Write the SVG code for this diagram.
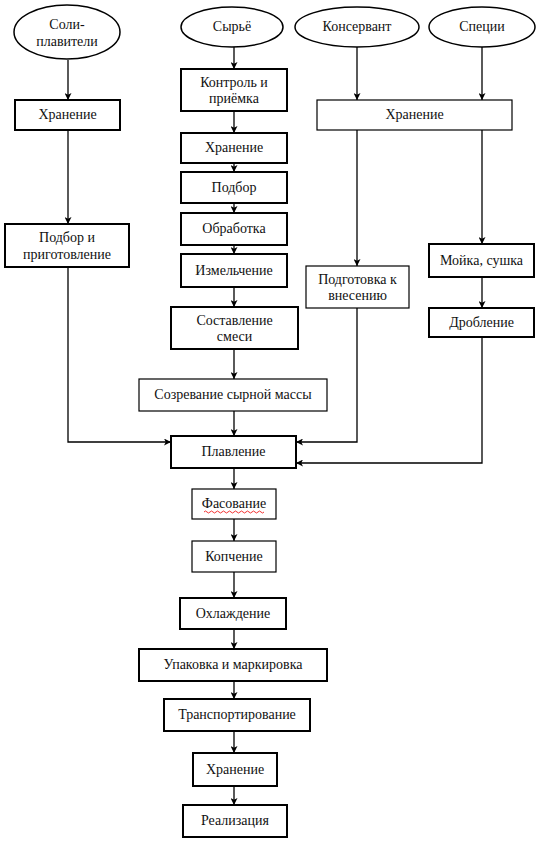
<svg xmlns="http://www.w3.org/2000/svg" width="542" height="842" viewBox="0 0 542 842">
<defs>
<marker id="ah" viewBox="0 0 8 8" refX="8" refY="4" markerWidth="7" markerHeight="7" markerUnits="userSpaceOnUse" orient="auto">
<path d="M0,0 L8,4 L0,8 L2,4 Z" fill="#000"/>
</marker>
<style>
text{font-size:14px;fill:#111;text-anchor:middle}
.b{fill:#fff;stroke:#000;stroke-width:2}
.t{fill:#fff;stroke:#000;stroke-width:1.2}
.e{fill:#fff;stroke:#000;stroke-width:1.5}
.c{fill:none;stroke:#000;stroke-width:1.3;marker-end:url(#ah)}
</style>
</defs>
<rect width="542" height="842" fill="#fff"/>
<g id="connectors">
<path class="c" d="M68,60 V100"/>
<path class="c" d="M68,130 V224"/>
<path class="c" d="M68,267 V442 H171"/>
<path class="c" d="M234,47 V69"/>
<path class="c" d="M234,111 V133"/>
<path class="c" d="M234,163 V172"/>
<path class="c" d="M234,203 V213"/>
<path class="c" d="M234,245 V254"/>
<path class="c" d="M234,287 V307"/>
<path class="c" d="M234,349 V379"/>
<path class="c" d="M234,411 V436"/>
<path class="c" d="M234,468 V489"/>
<path class="c" d="M234,519 V541"/>
<path class="c" d="M234,572 V598"/>
<path class="c" d="M234,629 V649"/>
<path class="c" d="M234,681 V699"/>
<path class="c" d="M234,731 V753"/>
<path class="c" d="M234,786 V805"/>
<path class="c" d="M357,47 V100"/>
<path class="c" d="M482,47 V100"/>
<path class="c" d="M357,130 V266"/>
<path class="c" d="M482,130 V244"/>
<path class="c" d="M482,277 V308"/>
<path class="c" d="M357,308 V442 H296"/>
<path class="c" d="M482,337 V463 H296"/>
</g>
<g font-family="'Liberation Serif', 'DejaVu Serif', 'Times New Roman', serif">
<g id="n-soli"><ellipse class="e" cx="67" cy="32" rx="53" ry="27"/><text x="67" y="29">Соли-</text><text x="67" y="46">плавители</text></g>
<g id="n-syrye"><ellipse class="e" cx="232" cy="27" rx="51" ry="20"/><text x="232" y="31">Сырьё</text></g>
<g id="n-konservant"><ellipse class="e" cx="357" cy="27" rx="62" ry="20"/><text x="357" y="31">Консервант</text></g>
<g id="n-specii"><ellipse class="e" cx="482" cy="27" rx="53" ry="20"/><text x="482" y="31">Специи</text></g>
<g id="n-hran1"><rect class="b" x="15" y="100" width="105" height="30"/><text x="67.5" y="119">Хранение</text></g>
<g id="n-kontrol"><rect class="b" x="181" y="69" width="106" height="42"/><text x="234" y="87">Контроль и</text><text x="234" y="103">приёмка</text></g>
<g id="n-hran2"><rect class="t" x="317" y="100" width="195" height="30"/><text x="414.5" y="119">Хранение</text></g>
<g id="n-hran3"><rect class="b" x="181" y="133" width="106" height="30"/><text x="234" y="152">Хранение</text></g>
<g id="n-podbor"><rect class="b" x="181" y="172" width="106" height="31"/><text x="234" y="192">Подбор</text></g>
<g id="n-obrab"><rect class="b" x="181" y="213" width="106" height="32"/><text x="234" y="233">Обработка</text></g>
<g id="n-izmel"><rect class="b" x="181" y="254" width="106" height="33"/><text x="234" y="275">Измельчение</text></g>
<g id="n-podbor2"><rect class="b" x="5" y="224" width="124" height="43"/><text x="67" y="242">Подбор и</text><text x="67" y="259">приготовление</text></g>
<g id="n-podgot"><rect class="t" x="306" y="266" width="103" height="42"/><text x="357.5" y="284">Подготовка к</text><text x="357.5" y="300">внесению</text></g>
<g id="n-moika"><rect class="b" x="429" y="244" width="105" height="33"/><text x="481.5" y="265">Мойка, сушка</text></g>
<g id="n-drob"><rect class="b" x="429" y="308" width="105" height="29"/><text x="481.5" y="327">Дробление</text></g>
<g id="n-sostav"><rect class="b" x="171" y="307" width="127" height="42"/><text x="234.5" y="325">Составление</text><text x="234.5" y="341">смеси</text></g>
<g id="n-sozr"><rect class="t" x="139" y="379" width="188" height="32"/><text x="233" y="399">Созревание сырной массы</text></g>
<g id="n-plavl"><rect class="b" x="171" y="436" width="125" height="32"/><text x="233.5" y="456">Плавление</text></g>
<g id="n-fas"><rect class="t" x="192" y="489" width="84" height="30"/><text x="234" y="508">Фасование</text><path d="M204,512 q1.5,-2 3,0 t3,0 t3,0 t3,0 t3,0 t3,0 t3,0 t3,0 t3,0 t3,0 t3,0 t3,0 t3,0 t3,0 t3,0 t3,0 t3,0 t3,0 t3,0 t3,0" fill="none" stroke="#e00" stroke-width="0.8"/></g>
<g id="n-kopch"><rect class="t" x="192" y="541" width="84" height="31"/><text x="234" y="561">Копчение</text></g>
<g id="n-ohl"><rect class="b" x="180" y="598" width="106" height="31"/><text x="233" y="618">Охлаждение</text></g>
<g id="n-upak"><rect class="b" x="139" y="649" width="188" height="32"/><text x="233" y="669">Упаковка и маркировка</text></g>
<g id="n-transp"><rect class="b" x="164" y="699" width="146" height="32"/><text x="237" y="719">Транспортирование</text></g>
<g id="n-hran4"><rect class="b" x="193" y="753" width="84" height="33"/><text x="235" y="774">Хранение</text></g>
<g id="n-real"><rect class="b" x="183" y="805" width="104" height="32"/><text x="235" y="825">Реализация</text></g>
</g>
</svg>
